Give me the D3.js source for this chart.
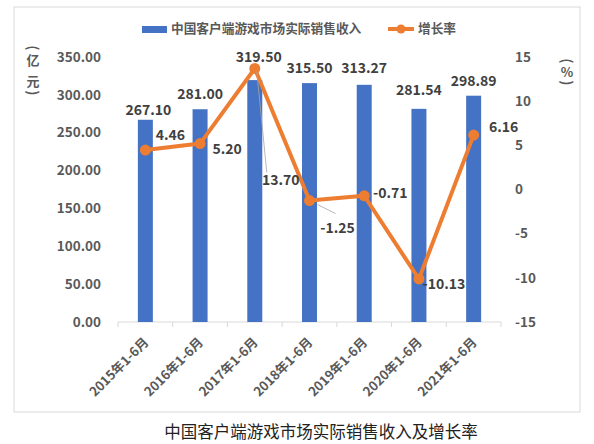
<!DOCTYPE html>
<html>
<head>
<meta charset="utf-8">
<script src="https://cdn.jsdelivr.net/npm/d3@7"></script>
<style>
  body { margin: 0; background: #fff; }
  text { font-family: "Noto Sans CJK SC", "Noto Sans", sans-serif; }
</style>
</head>
<body>
<svg id="chart" width="594" height="444"></svg>
<script>
const categories = ["2015年1-6月", "2016年1-6月", "2017年1-6月", "2018年1-6月", "2019年1-6月", "2020年1-6月", "2021年1-6月"];
const revenue = [267.10, 281.00, 319.50, 315.50, 313.27, 281.54, 298.89];
const growth = [4.46, 5.20, 13.70, -1.25, -0.71, -10.13, 6.16];
const leftTicks = [0, 50, 100, 150, 200, 250, 300, 350];
const rightTicks = [-15, -10, -5, 0, 5, 10, 15];

const barName = "中国客户端游戏市场实际销售收入";
const lineName = "增长率";
const caption = "中国客户端游戏市场实际销售收入及增长率";

// nudges for labels, like they were dragged by hand in the original
const barLabelNudge = [[3, 5], [0, 0], [4, -8], [0, 0], [0, -2], [0, -4], [0, 0]];
const lineLabelNudge = [[25, -15], [27, 6], [26, 112], [28, 28], [26, -3], [25, 5], [30, -8]];

const svg = d3.select("#chart");
const blue = "#4472C4", orange = "#ED7D31", axisGray = "#595959", labelGray = "#404040";
const fmt = (d) => d.toFixed(2);

// frame
svg.append("rect")
    .attr("x", 14).attr("y", 7)
    .attr("width", 566).attr("height", 405)
    .attr("fill", "#fff")
    .attr("stroke", "#d9d9d9")
    .attr("stroke-width", 1);

const x = d3.scaleBand()
    .domain(categories)
    .range([118, 501])
    .paddingInner(0.726)
    .paddingOuter(0.363);
const yL = d3.scaleLinear().domain([0, 350]).range([322, 57]);
const yR = d3.scaleLinear().domain([-15, 15]).range([322, 57]);
const cx = (d) => x(d) + x.bandwidth() / 2;

// left axis labels
svg.append("g").selectAll("text")
    .data(leftTicks)
    .enter()
    .append("text")
    .attr("x", 101)
    .attr("y", (d) => yL(d))
    .attr("dy", "0.35em")
    .attr("text-anchor", "end")
    .attr("font-size", 13.5)
    .attr("font-weight", "bold")
    .attr("fill", axisGray)
    .text((d) => fmt(d));

// right axis labels
svg.append("g").selectAll("text")
    .data(rightTicks)
    .enter()
    .append("text")
    .attr("x", 515)
    .attr("y", (d) => yR(d))
    .attr("dy", "0.35em")
    .attr("font-size", 13.5)
    .attr("font-weight", "bold")
    .attr("fill", axisGray)
    .text((d) => d);

// axis titles, stacked vertically; brackets turned on their side
const titleChar = (g, cxPos, items) => {
    g.selectAll("text")
        .data(items)
        .enter()
        .append("text")
        .attr("transform", (d) => `translate(${cxPos},${d[1]})` + (d[2] ? " rotate(90)" : ""))
        .attr("dy", "0.35em")
        .attr("text-anchor", "middle")
        .attr("font-size", (d) => d[2] ? 14 : 13)
        .attr("font-weight", "bold")
        .attr("fill", axisGray)
        .text((d) => d[0]);
};
titleChar(svg.append("g"), 33, [["(", 48, true], ["亿", 60], ["元", 81], [")", 93, true]]);
titleChar(svg.append("g"), 567, [["(", 61, true], ["%", 72], [")", 83, true]]);

// x axis line + ticks between categories
const x0 = x.range()[0], x1 = x.range()[1];
svg.append("line")
    .attr("x1", x0).attr("x2", x1)
    .attr("y1", yL(0)).attr("y2", yL(0))
    .attr("stroke", "#d9d9d9").attr("stroke-width", 1);
svg.append("g").selectAll("line")
    .data(d3.range(categories.length + 1))
    .enter()
    .append("line")
    .attr("x1", (i) => x0 + i * x.step())
    .attr("x2", (i) => x0 + i * x.step())
    .attr("y1", yL(0)).attr("y2", yL(0) + 5)
    .attr("stroke", "#d9d9d9").attr("stroke-width", 1);

// category labels
svg.append("g").selectAll("text")
    .data(categories)
    .enter()
    .append("text")
    .attr("transform", (d) => `translate(${cx(d) + 4},${yL(0) + 21}) rotate(-45)`)
    .attr("text-anchor", "end")
    .attr("font-size", 13)
    .attr("font-weight", "bold")
    .attr("fill", axisGray)
    .text((d) => d);

// bars
svg.append("g").selectAll("rect")
    .data(revenue)
    .enter()
    .append("rect")
    .attr("x", (d, i) => x(categories[i]))
    .attr("y", (d) => yL(d))
    .attr("width", x.bandwidth())
    .attr("height", (d) => yL(0) - yL(d))
    .attr("fill", blue);

// bar labels
svg.append("g").selectAll("text")
    .data(revenue)
    .enter()
    .append("text")
    .attr("x", (d, i) => cx(categories[i]) + barLabelNudge[i][0])
    .attr("y", (d, i) => yL(d) - 15 + barLabelNudge[i][1])
    .attr("dy", "0.35em")
    .attr("text-anchor", "middle")
    .attr("font-size", 14)
    .attr("font-weight", "bold")
    .attr("fill", labelGray)
    .text((d) => fmt(d));

// growth line
const line = d3.line()
    .x((d, i) => cx(categories[i]))
    .y((d) => yR(d));

svg.append("path")
    .datum(growth)
    .attr("d", line)
    .attr("fill", "none")
    .attr("stroke", orange)
    .attr("stroke-width", 4)
    .attr("stroke-linejoin", "round");

svg.append("g").selectAll("circle")
    .data(growth)
    .enter()
    .append("circle")
    .attr("cx", (d, i) => cx(categories[i]))
    .attr("cy", (d) => yR(d))
    .attr("r", 5.5)
    .attr("fill", orange);

// leader lines for the two labels that were pulled away
const leaders = [2, 3];
svg.append("g").selectAll("line")
    .data(leaders)
    .enter()
    .append("line")
    .attr("x1", (i) => cx(categories[i]) + (i === 2 ? 2 : 8))
    .attr("y1", (i) => yR(growth[i]) + (i === 2 ? 3 : 4))
    .attr("x2", (i) => cx(categories[i]) + lineLabelNudge[i][0] + (i === 2 ? -14 : -2))
    .attr("y2", (i) => yR(growth[i]) + lineLabelNudge[i][1] + (i === 2 ? -8 : -15))
    .attr("stroke", "#a6a6a6")
    .attr("stroke-width", 0.8);

// growth labels
svg.append("g").selectAll("text")
    .data(growth)
    .enter()
    .append("text")
    .attr("x", (d, i) => cx(categories[i]) + lineLabelNudge[i][0])
    .attr("y", (d, i) => yR(d) + lineLabelNudge[i][1])
    .attr("dy", "0.35em")
    .attr("text-anchor", "middle")
    .attr("font-size", 14)
    .attr("font-weight", "bold")
    .attr("fill", labelGray)
    .text((d) => fmt(d));

// legend
const legend = svg.append("g");
legend.append("rect")
    .attr("x", 142).attr("y", 26)
    .attr("width", 25).attr("height", 7)
    .attr("fill", blue);
legend.append("text")
    .attr("x", 171).attr("y", 29)
    .attr("dy", "0.35em")
    .attr("font-size", 12.7)
    .attr("font-weight", "bold")
    .attr("fill", axisGray)
    .text(barName);
legend.append("line")
    .attr("x1", 388).attr("x2", 414)
    .attr("y1", 29).attr("y2", 29)
    .attr("stroke", orange).attr("stroke-width", 4);
legend.append("circle")
    .attr("cx", 401).attr("cy", 29).attr("r", 4.5)
    .attr("fill", orange);
legend.append("text")
    .attr("x", 418).attr("y", 29)
    .attr("dy", "0.35em")
    .attr("font-size", 12.7)
    .attr("font-weight", "bold")
    .attr("fill", axisGray)
    .text(lineName);

// caption under the frame
svg.append("text")
    .attr("x", 321).attr("y", 432)
    .attr("dy", "0.35em")
    .attr("text-anchor", "middle")
    .attr("font-size", 16.5)
    .attr("fill", "#222")
    .text(caption);
</script>
</body>
</html>
